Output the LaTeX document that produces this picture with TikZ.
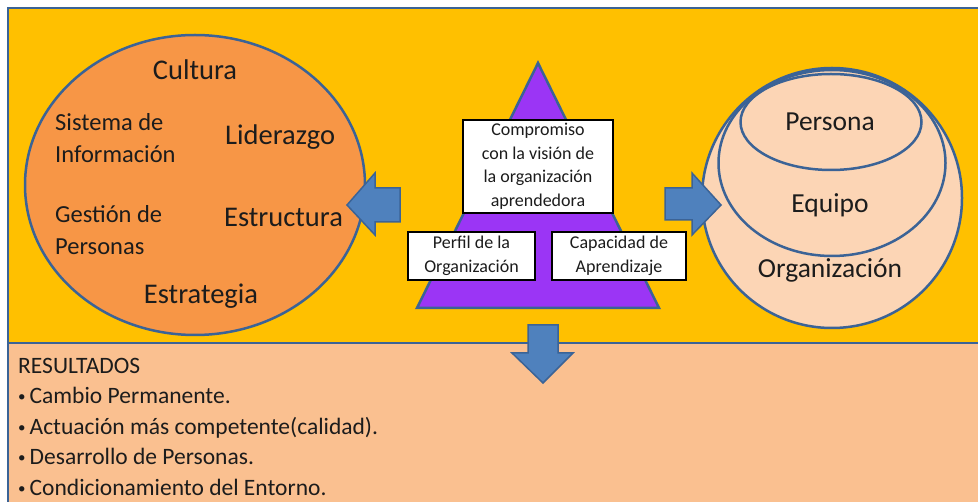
\documentclass[tikz,border=0pt]{standalone}
\usepackage{fontspec}
\setmainfont{Carlito}
\usetikzlibrary{shapes.geometric}
\definecolor{marco}{HTML}{3B6396}
\definecolor{amarillo}{HTML}{FFC000}
\definecolor{naranja}{HTML}{F79646}
\definecolor{durazno}{HTML}{FAC090}
\definecolor{crema}{HTML}{FCD5B5}
\definecolor{morado}{HTML}{9B35F5}
\definecolor{azul}{HTML}{4F81BD}
\definecolor{letra}{HTML}{1C1C1C}
\newcommand{\vineta}{{\fontsize{15}{15}\selectfont\raisebox{2pt}{•}}\hspace{4pt}}
\begin{document}
\begin{tikzpicture}[x=1pt,y=-1pt,text=letra,
  borde/.style={draw=marco,line width=2.5pt},
  caja/.style={draw=black,fill=white,line width=2.5pt,align=center,inner sep=0pt,
    font=\fontsize{18}{23.5}\selectfont},
  flecha/.style={draw=marco,fill=azul,line width=1.5pt,line join=miter},
  grande/.style={anchor=base,inner sep=0pt,font=\fontsize{28.5}{32}\selectfont},
  mediana/.style={anchor=base west,inner sep=0pt,font=\fontsize{24.5}{32}\selectfont},
  derecha/.style={anchor=base,inner sep=0pt,font=\fontsize{27.5}{32}\selectfont},
  lista/.style={anchor=base west,inner sep=0pt,font=\fontsize{23.5}{27}\selectfont}]
  \useasboundingbox (0,0) rectangle (978,502);
  \clip (0,0) rectangle (978,502);
  \fill[white] (0,0) rectangle (978,502);
  % fondo
  \draw[borde,fill=amarillo] (8,8) rectangle (995,343);
  \draw[borde,fill=durazno] (8,343) rectangle (995,520);
  % elipse de la izquierda
  \node (elementos) [borde,fill=naranja,ellipse,minimum width=340pt,minimum height=300pt] at (195,185) {};
  \node (cultura) [grande] at (195,80) {Cultura};
  \node (liderazgo) [grande,anchor=base west] at (225,145) {Liderazgo};
  \node (estructura) [grande,anchor=base west] at (224,227) {Estructura};
  \node (estrategia) [grande] at (201,304) {Estrategia};
  \node (sistema) [mediana] at (55,131) {Sistema de};
  \node (informacion) [mediana] at (55,163) {Información};
  \node (gestion) [mediana] at (55,223) {Gestión de};
  \node (personas) [mediana] at (55,255) {Personas};
  % piramide
  \draw[borde,fill=morado] (538,63) -- (659,308) -- (417,308) -- cycle;
  \node (compromiso) [caja,minimum width=150pt,minimum height=93pt] at (538,166.5)
    {Compromiso\\con la visión de\\la organización\\aprendedora};
  \node (perfil) [caja,minimum width=127pt,minimum height=48pt] at (471.5,256)
    {Perfil de la\\Organización};
  \node (capacidad) [caja,minimum width=134pt,minimum height=48pt] at (619,256)
    {Capacidad de\\Aprendizaje};
  % circulos de la derecha
  \node (organizacion) [borde,fill=crema,circle,minimum size=260pt] at (832,198) {};
  \node (equipo) [borde,fill=crema,ellipse,minimum width=227pt,minimum height=186pt] at (832,163) {};
  \node (persona) [borde,fill=crema,ellipse,minimum width=181pt,minimum height=96pt] at (831,122) {};
  \node (tpersona) [derecha] at (830,131) {Persona};
  \node (tequipo) [derecha] at (830,213) {Equipo};
  \node (torganizacion) [derecha] at (830,278) {Organización};
  % flechas
  \draw[flecha] (400,188) -- (375,188) -- (375,173) -- (347,205) -- (375,235) -- (375,222) -- (400,222) -- cycle;
  \draw[flecha] (665,188) -- (692,188) -- (692,173) -- (721,205) -- (692,235) -- (692,220) -- (665,220) -- cycle;
  \draw[flecha] (528,325) -- (558,325) -- (558,353) -- (573,353) -- (543,383) -- (512,353) -- (528,353) -- cycle;
  % resultados
  \node (resultados) [lista] at (18,374) {RESULTADOS};
  \node (cambio) [lista] at (18,404) {\vineta Cambio Permanente.};
  \node (actuacion) [lista] at (18,435) {\vineta Actuación más competente(calidad).};
  \node (desarrollo) [lista] at (18,465) {\vineta Desarrollo de Personas.};
  \node (condicionamiento) [lista] at (18,496) {\vineta Condicionamiento del Entorno.};
\end{tikzpicture}
\end{document}
